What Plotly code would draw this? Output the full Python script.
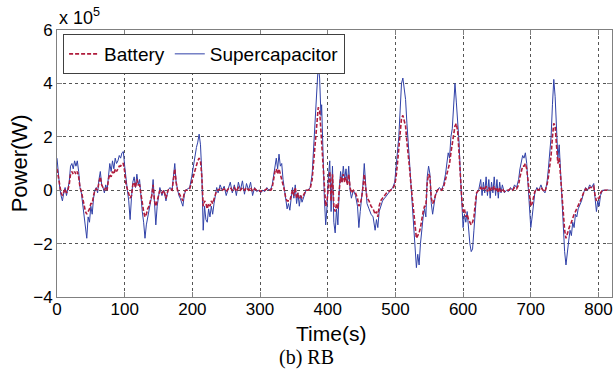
import plotly.graph_objects as go

# time (s)
t = [0, 2, 4, 6, 8, 10, 12, 14, 16, 18, 20, 22, 24, 26, 28, 30, 32, 34, 36, 38,
     40, 42, 44, 46, 48, 50, 52, 54, 56, 58, 60, 62, 64, 66, 68, 70, 72, 74, 76, 78,
     80, 82, 84, 86, 88, 90, 92, 94, 96, 98, 100, 102, 104, 106, 108, 110, 112, 114, 116, 118,
     120, 122, 124, 126, 128, 130, 132, 134, 136, 138, 140, 142, 144, 146, 148, 150, 152, 155, 158, 161,
     164, 167, 170, 172, 174, 176, 178, 180, 182, 184, 186, 188, 190, 193, 196, 199, 202, 204, 206, 208,
     210, 212, 214, 216, 218, 220, 222, 224, 226, 228, 230, 232, 234, 236, 238, 241, 244, 247, 250, 253,
     256, 259, 262, 265, 268, 271, 274, 277, 280, 283, 286, 289, 292, 295, 298, 301, 304, 307, 310, 313,
     316, 318, 320, 322, 324, 326, 328, 330, 332, 334, 336, 338, 340, 342, 344, 346, 348, 350, 352, 354,
     356, 358, 360, 362, 364, 366, 368, 371, 374, 377, 379, 381, 383, 385, 386, 388, 390, 391, 393, 395,
     397, 399, 401, 403, 405, 407, 409, 411, 413, 415, 417, 419, 421, 423, 425, 427, 429, 431, 433, 435,
     438, 441, 444, 446, 448, 450, 452, 454, 456, 458, 461, 464, 467, 470, 472, 474, 476, 478, 481, 484,
     487, 490, 493, 496, 499, 501, 503, 505, 507, 509, 511, 513, 515, 517, 519, 521, 523, 525, 527, 529,
     531, 533, 535, 537, 539, 541, 543, 545, 547, 549, 551, 553, 555, 557, 559, 562, 565, 568, 571, 574,
     576, 578, 580, 582, 584, 586, 588, 590, 592, 594, 596, 598, 600, 602, 604, 606, 608, 610, 612, 614,
     616, 618, 620, 623, 626, 628, 630, 632, 634, 636, 638, 640, 642, 644, 646, 648, 650, 652, 654, 656,
     658, 661, 664, 667, 670, 673, 676, 679, 682, 684, 686, 688, 690, 692, 694, 696, 698, 700, 702, 704,
     706, 709, 712, 715, 718, 721, 724, 726, 728, 730, 732, 734, 736, 738, 740, 742, 744, 746, 748, 750,
     752, 754, 756, 758, 760, 762, 764, 766, 768, 770, 772, 775, 778, 781, 784, 787, 790, 793, 795, 797,
     799, 801, 803, 806, 810, 815, 818]

# Supercapacitor power (x 1e5 W)
supercap = [1.2, 0.6, 0.1, -0.2, -0.4, -0.1, 0.1, -0.2, 0.0, 0.3, 0.9, 1.0, 0.8, 1.1, 0.9, 1.1, 0.7, 0.1, -0.1, -0.5,
            -0.9, -1.4, -1.8, -1.0, -1.2, -0.6, -0.9, -0.3, 0.0, 0.1, -0.1, 0.4, 0.7, 0.2, 0.1, -0.1, 0.2, 0.0, 0.6, 1.0,
            0.7, 1.1, 0.8, 1.2, 1.0, 1.1, 1.3, 1.2, 1.4, 1.45, 0.9, 0.3, 0.0, -0.4, -1.1, -0.3, 0.3, 0.5, 0.1, 0.6,
            0.2, 0.4, -0.3, -0.8, -1.2, -1.8, -1.3, -1.0, -0.7, -0.5, -0.2, 0.4, -0.5, -1.3, -0.6, -0.3, 0.1, -0.2, 0.0, -0.4,
            0.0, 0.1, 0.0, 0.5, 1.0, 0.3, 0.0, -0.2, -0.3, -0.5, -0.6, -0.2, 0.0, 0.05, 0.1, 0.5, 1.0, 1.3, 1.6, 1.8,
            2.1, 1.7, 0.6, -1.5, -0.6, -1.1, -1.2, -0.7, -1.0, -0.6, -0.9, -0.5, -0.1, 0.1, -0.1, 0.2, 0.0, 0.15, -0.2, 0.1,
            0.3, -0.1, 0.2, -0.2, 0.3, 0.0, 0.35, -0.15, 0.25, 0.0, 0.3, -0.2, 0.1, -0.05, 0.0, -0.1, 0.0, -0.05, 0.1, 0.0,
            0.05, 0.2, 0.6, 1.0, 1.2, 0.8, 1.35, 0.9, 1.0, 0.4, 0.0, -0.4, -0.7, -0.5, -0.75, -0.3, 0.1, -0.3, 0.2, -0.5,
            -0.1, -0.6, -0.2, -0.45, -0.3, -0.1, 0.0, 0.0, 0.1, 0.6, 1.5, 2.5, 3.5, 4.4, 4.7, 4.2, 2.8, 3.2, 1.0, -0.3,
            -1.3, -0.6, 0.5, 1.1, -0.8, 0.9, -1.2, -1.6, -0.7, -1.3, 0.0, 0.7, 0.3, 0.9, 0.4, 0.8, 0.2, 0.9, 0.0, -0.3,
            0.0, -0.2, -0.6, -1.4, -0.8, -0.4, 0.2, 1.0, 0.2, -0.5, -0.7, -0.9, -1.0, -1.5, -1.1, -1.4, -0.8, -0.6, -0.4, -0.3,
            -0.2, -0.1, 0.0, 0.1, 0.3, 0.8, 1.3, 2.0, 3.0, 4.0, 4.2, 3.8, 3.4, 2.5, 1.9, 1.0, 0.2, -0.5, -1.5, -2.2,
            -2.9, -2.4, -2.8, -2.0, -1.4, -1.0, -0.7, -1.0, 0.5, 0.9, 0.6, -0.5, -0.9, -0.6, -0.2, 0.0, 0.1, 0.0, 0.2, 0.6,
            1.0, 1.4, 1.2, 2.0, 2.3, 3.0, 4.0, 3.3, 2.6, 1.8, 0.6, -0.6, -1.4, -0.9, -1.2, -0.8, -1.5, -2.0, -2.3, -2.2,
            -1.5, -0.6, -0.1, 0.0, 0.4, -0.2, 0.3, -0.1, 0.5, -0.2, 0.4, -0.3, 0.3, -0.1, 0.5, -0.2, 0.4, -0.3, 0.3, -0.1,
            0.2, -0.1, 0.0, -0.05, 0.1, 0.0, 0.2, 0.1, 0.4, 0.8, 1.0, 1.3, 1.2, 1.4, 1.0, 0.3, -0.5, -1.4, -1.0, -0.4,
            -0.1, 0.1, 0.0, 0.2, 0.0, -0.1, 0.3, 0.8, 1.5, 2.0, 3.2, 4.15, 3.5, 2.0, 1.2, 1.7, 0.6, -0.6, -1.6, -2.3,
            -2.8, -2.2, -1.9, -1.5, -1.7, -1.2, -1.4, -0.9, -1.0, -0.7, -0.6, -0.4, -0.1, 0.1, 0.0, 0.2, 0.1, 0.25, -0.3, -0.8,
            -0.4, -0.6, -0.2, 0.0, 0.0, 0.0, 0.0]

# Battery power (x 1e5 W)
battery = [0.8, 0.5, 0.1, -0.1, -0.2, -0.05, 0.05, -0.1, 0.0, 0.2, 0.6, 0.7, 0.6, 0.7, 0.6, 0.7, 0.5, 0.1, -0.05, -0.3,
           -0.6, -0.8, -0.9, -0.8, -0.7, -0.5, -0.5, -0.2, 0.0, 0.05, 0.0, 0.3, 0.5, 0.2, 0.1, 0.0, 0.1, 0.0, 0.4, 0.6,
           0.5, 0.7, 0.6, 0.8, 0.7, 0.8, 0.9, 0.9, 1.0, 1.0, 0.7, 0.2, 0.0, -0.2, -0.3, -0.2, 0.2, 0.3, 0.1, 0.4,
           0.2, 0.2, -0.2, -0.5, -0.8, -1.0, -0.9, -0.7, -0.6, -0.4, -0.2, 0.2, -0.4, -0.6, -0.4, -0.2, 0.0, -0.1, 0.0, -0.3,
           0.0, 0.05, 0.0, 0.4, 0.8, 0.3, 0.0, -0.1, -0.2, -0.3, -0.4, -0.1, 0.0, 0.0, 0.05, 0.3, 0.6, 0.8, 1.0, 1.1,
           1.2, 1.1, 0.5, -0.6, -0.4, -0.5, -0.7, -0.5, -0.6, -0.4, -0.5, -0.3, -0.1, 0.0, 0.0, 0.05, 0.0, 0.05, -0.05, 0.05,
           0.1, 0.0, 0.1, -0.05, 0.1, 0.0, 0.1, 0.0, 0.1, 0.0, 0.1, -0.05, 0.05, 0.0, 0.0, -0.05, 0.0, 0.0, 0.05, 0.0,
           0.0, 0.1, 0.4, 0.7, 0.8, 0.6, 0.8, 0.6, 0.5, 0.3, 0.0, -0.3, -0.4, -0.4, -0.4, -0.2, 0.0, -0.2, 0.1, -0.3,
           -0.1, -0.3, -0.2, -0.3, -0.2, -0.1, 0.0, 0.0, 0.05, 0.4, 1.0, 1.6, 2.3, 2.9, 3.1, 3.0, 2.2, 2.0, 0.8, 0.0,
           -0.6, -0.4, 0.3, 0.7, -0.4, 0.6, -0.6, -0.8, -0.5, -0.7, 0.0, 0.5, 0.3, 0.6, 0.3, 0.5, 0.2, 0.6, 0.1, -0.1,
           0.0, -0.1, -0.3, -0.6, -0.5, -0.3, 0.1, 0.6, 0.1, -0.3, -0.4, -0.6, -0.7, -0.9, -0.8, -1.0, -0.6, -0.4, -0.3, -0.2,
           -0.1, -0.05, 0.0, 0.05, 0.2, 0.5, 1.0, 1.5, 2.2, 2.7, 2.8, 2.6, 2.4, 1.8, 1.4, 0.8, 0.2, -0.3, -1.0, -1.5,
           -1.8, -1.7, -1.6, -1.4, -1.0, -0.8, -0.6, -0.6, 0.3, 0.6, 0.5, -0.3, -0.5, -0.4, -0.2, 0.0, 0.05, 0.0, 0.1, 0.4,
           0.7, 0.9, 1.0, 1.4, 1.7, 2.0, 2.4, 2.5, 2.2, 1.4, 0.5, -0.3, -0.8, -0.7, -1.0, -0.9, -1.1, -1.2, -1.3, -1.2,
           -1.0, -0.5, -0.1, 0.0, 0.1, 0.0, 0.1, 0.0, 0.15, -0.05, 0.1, -0.05, 0.1, 0.0, 0.15, 0.0, 0.1, -0.1, 0.1, -0.05,
           0.05, -0.05, 0.0, 0.0, 0.05, 0.0, 0.1, 0.05, 0.2, 0.5, 0.7, 0.9, 0.9, 1.0, 0.8, 0.3, -0.3, -0.6, -0.5, -0.3,
           -0.05, 0.05, 0.0, 0.1, 0.0, -0.05, 0.2, 0.5, 0.9, 1.3, 2.0, 2.5, 2.4, 1.6, 1.0, 1.2, 0.5, -0.4, -1.0, -1.5,
           -1.8, -1.6, -1.5, -1.3, -1.2, -1.0, -0.9, -0.8, -0.7, -0.6, -0.5, -0.3, -0.1, 0.05, 0.0, 0.1, 0.1, 0.15, -0.2, -0.4,
           -0.3, -0.3, -0.1, 0.0, 0.0, 0.0, 0.0]

x_ticks = [0, 100, 200, 300, 400, 500, 600, 700, 800]
y_ticks = [-4, -2, 0, 2, 4, 6]

fig = go.Figure()
fig.add_trace(go.Scatter(x=t, y=supercap, mode="lines", name="Supercapacitor",
                         line=dict(color="#3041a8", width=1), legendrank=2))
fig.add_trace(go.Scatter(x=t, y=battery, mode="lines", name="Battery",
                         line=dict(color="#b01c3c", width=1.6, dash="4px,2px"), legendrank=1))

axis_common = dict(showline=True, linecolor="#808080", linewidth=1, mirror="ticks",
                   ticks="inside", ticklen=5, tickcolor="#808080",
                   showgrid=True, gridcolor="#555555", gridwidth=1, griddash="dot",
                   zeroline=False, tickfont=dict(family="Liberation Sans, Arial", size=17, color="black"))

fig.update_xaxes(range=[0, 820], tickvals=x_ticks, ticklabelstandoff=-3, **axis_common)
fig.update_yaxes(range=[-4, 6], tickvals=y_ticks, **axis_common)

fig.update_layout(
    width=615, height=378,
    margin=dict(l=57, r=3, t=30, b=81),
    plot_bgcolor="white", paper_bgcolor="white",
    font=dict(family="Liberation Sans, Arial", color="black"),
    legend=dict(x=0.011, y=0.985, xanchor="left", yanchor="top", orientation="h",
                bgcolor="white", bordercolor="#404040", borderwidth=1,
                font=dict(size=19), traceorder="normal"),
    annotations=[
        dict(text="x 10<sup>5</sup>", xref="paper", yref="paper", x=0.0, y=1.0,
             xanchor="left", yanchor="bottom", showarrow=False, font=dict(size=18)),
        dict(text="Power(W)", xref="paper", yref="paper", x=-0.067, y=0.5, textangle=-90,
             xanchor="center", yanchor="middle", showarrow=False, font=dict(size=22)),
        dict(text="Time(s)", xref="paper", yref="paper", x=0.494, y=-0.136,
             xanchor="center", yanchor="middle", showarrow=False, font=dict(size=21)),
        dict(text="(b) RB", xref="paper", yref="paper", x=0.45, y=-0.228,
             xanchor="center", yanchor="middle", showarrow=False,
             font=dict(size=20, family="Liberation Serif, Times New Roman")),
    ],
)

fig.write_html("out.html")
